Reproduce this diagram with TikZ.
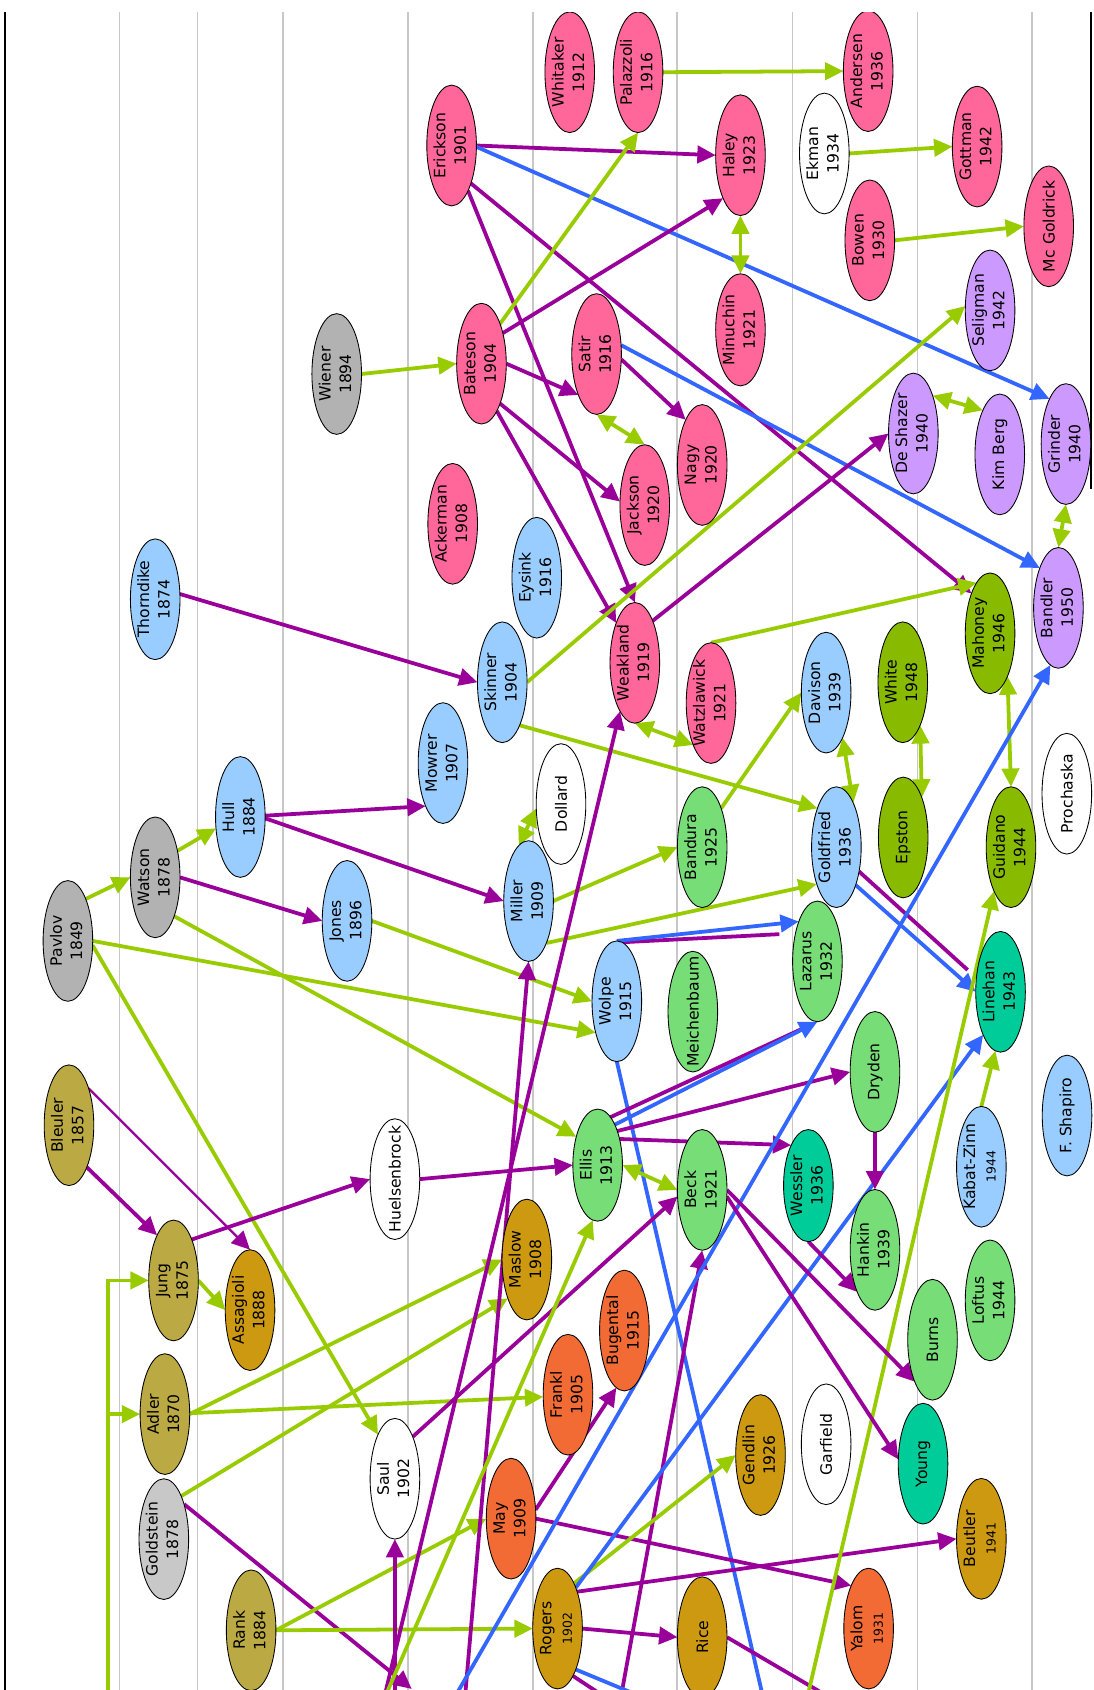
\documentclass[tikz,border=0pt]{standalone}
\usepackage{fontspec}
\usepackage{graphicx}
\usetikzlibrary{shapes.geometric,arrows.meta}
\newfontfamily\dejavu{DejaVu Sans}
\newcommand{\nfont}{\dejavu\fontsize{14.5}{19}\selectfont}
\newcommand{\twol}[2]{\makebox[0pt]{\raisebox{-.5\height}[0pt][0pt]{\rotatebox{90}{\begin{tabular}{@{}c@{}}#1\\#2\end{tabular}}}}}
\newcommand{\onel}[1]{\makebox[0pt]{\raisebox{-.5\height}[0pt][0pt]{\rotatebox{90}{#1}}}}
\newcommand{\smy}[1]{{\fontsize{11.5}{13}\selectfont #1}}
\pgfdeclarelayer{background}
\pgfsetlayers{background,main}
\definecolor{cpink}{HTML}{FF6699}
\definecolor{cgray}{HTML}{B2B2B2}
\definecolor{cgrayl}{HTML}{C8C8C8}
\definecolor{colive}{HTML}{BBAA44}
\definecolor{cgold}{HTML}{CC9911}
\definecolor{corange}{HTML}{F26B35}
\definecolor{cblue}{HTML}{99CCFF}
\definecolor{cgreen}{HTML}{77DD77}
\definecolor{cteal}{HTML}{00CC99}
\definecolor{colgreen}{HTML}{88BB00}
\definecolor{clav}{HTML}{CC99FF}
\definecolor{egreen}{HTML}{99CC00}
\definecolor{epurple}{HTML}{990099}
\definecolor{eblue}{HTML}{3366FF}
\definecolor{gridc}{HTML}{C8C8C8}
\begin{document}
\begin{tikzpicture}[x=1pt,y=-1pt,
  >={Triangle[length=17pt,width=16pt]},
  pn/.style={ellipse, draw=black, line width=0.8pt, minimum width=46pt, minimum height=112pt, inner sep=0pt, outer sep=0pt, font=\nfont},
  ge/.style={draw=egreen, line width=3.5pt, ->},
  ge2/.style={draw=egreen, line width=3.5pt, <->},
  pe/.style={draw=epurple, line width=3.5pt, ->},
  pe0/.style={draw=epurple, line width=3.5pt},
  be/.style={draw=eblue, line width=3.5pt, ->},
  be0/.style={draw=eblue, line width=3.5pt},
  gridline/.style={draw=gridc, line width=1.2pt}]
\useasboundingbox (0,0) rectangle (1015,1568);
\begin{scope}
\clip (0,11.7) rectangle (1015,1568);
\node[pn,fill=colive] (Bleuler) at (64,1044) {\twol{Bleuler}{1857}};
\node[pn,fill=cgray] (Pavlov) at (63,873) {\twol{Pavlov}{1849}};
\node[pn,fill=colive] (Jung) at (161,1188) {\twol{Jung}{1875}};
\node[pn,fill=cgold] (Assagioli) at (232,1215.5) {\twol{Assagioli}{1888}};
\node[pn,fill=colive] (Adler) at (153,1312) {\twol{Adler}{1870}};
\node[pn,fill=cgrayl] (Goldstein) at (152,1428) {\twol{Goldstein}{1878}};
\node[pn,fill=colive] (Rank) at (233,1512.6) {\twol{Rank}{1884}};
\node[pn,fill=cgray] (Watson) at (144,814) {\twol{Watson}{1878}};
\node[pn,fill=cblue] (Hull) at (223,758) {\twol{Hull}{1884}};
\node[pn,fill=cblue] (Thorndike) at (144,556) {\twol{Thorndike}{1874}};
\node[pn,fill=cblue] (Jones) at (322,854.4) {\twol{Jones}{1896}};
\node[pn,fill=cblue] (Mowrer) at (411,708) {\twol{Mowrer}{1907}};
\node[pn,fill=cgray] (Wiener) at (312.4,347) {\twol{Wiener}{1894}};
\node[pn,fill=white] (Huelsenbrock) at (366.4,1094) {\onel{Huelsenbrock}};
\node[pn,fill=white] (Saul) at (366.4,1372) {\twol{Saul}{1902}};
\node[pn,fill=cpink] (Erickson) at (419,135) {\twol{Erickson}{1901}};
\node[pn,fill=cpink] (Bateson) at (446.7,337.4) {\twol{Bateson}{1904}};
\node[pn,fill=cpink] (Ackerman) at (420,486) {\twol{Ackerman}{1908}};
\node[pn,fill=cblue] (Skinner) at (466,633) {\twol{Skinner}{1904}};
\node[pn,fill=cblue] (Eysink) at (498,536) {\twol{Eysink}{1916}};
\node[pn,fill=white] (Dollard) at (520.5,746) {\onel{Dollard}};
\node[pn,fill=cblue] (Miller) at (490.4,836) {\twol{Miller}{1909}};
\node[pn,fill=cblue] (Wolpe) at (572.3,929) {\twol{Wolpe}{1915}};
\node[pn,fill=cgold] (Maslow) at (488.8,1168.6) {\twol{Maslow}{1908}};
\node[pn,fill=corange] (Frankl) at (527,1294) {\twol{Frankl}{1905}};
\node[pn,fill=corange] (Bugental) at (579.3,1234.5) {\twol{Bugental}{1915}};
\node[pn,fill=corange] (May) at (474.2,1409) {\twol{May}{1909}};
\node[pn,fill=cgold] (Rogers) at (517.3,1511) {\twol{Rogers}{\smy{1902}}};
\node[pn,fill=cgreen,minimum height=104pt] (Ellis) at (554.5,1081) {\twol{Ellis}{1913}};
\node[pn,fill=cgreen] (Beck) at (651.5,1104) {\twol{Beck}{1921}};
\node[pn,fill=cgreen] (Meichenbaum) at (642.8,938.6) {\onel{Meichenbaum}};
\node[pn,fill=cpink] (Whitaker) at (528.6,67) {\twol{Whitaker}{1912}};
\node[pn,fill=cpink] (Palazzoli) at (592,67) {\twol{Palazzoli}{1916}};
\node[pn,fill=cpink] (Haley) at (687,144) {\twol{Haley}{1923}};
\node[pn,fill=cpink] (Satir) at (553.5,328.5) {\twol{Satir}{1916}};
\node[pn,fill=cpink] (Jackson) at (598.2,468.6) {\twol{Jackson}{1920}};
\node[pn,fill=cpink] (Nagy) at (651.5,431.4) {\twol{Nagy}{1920}};
\node[pn,fill=cpink,minimum height=104pt] (Minuchin) at (687,306) {\twol{Minuchin}{1921}};
\node[pn,fill=cpink] (Weakland) at (589,615) {\twol{Weakland}{1919}};
\node[pn,fill=cpink] (Watzlawick) at (659.7,652.3) {\twol{Watzlawick}{1921}};
\node[pn,fill=cgreen] (Bandura) at (651.5,786) {\twol{Bandura}{1925}};
\node[pn,fill=cgreen] (Lazarus) at (758.4,892) {\twol{Lazarus}{1932}};
\node[pn,fill=cblue] (Davison) at (766.5,642.6) {\twol{Davison}{1939}};
\node[pn,fill=cblue] (Goldfried) at (776,786) {\twol{Goldfried}{1936}};
\node[pn,fill=cgold] (Gendlin) at (705.6,1350) {\twol{Gendlin}{1926}};
\node[pn,fill=cgold] (Rice) at (651.5,1519) {\onel{Rice}};
\node[pn,fill=white] (Garfield) at (766.5,1340) {\onel{Garfield}};
\node[pn,fill=cteal,minimum height=104pt] (Wessler) at (750,1100) {\twol{Wessler}{1936}};
\node[pn,fill=cgreen] (Dryden) at (811.8,994.5) {\onel{Dryden}};
\node[pn,fill=cgreen] (Hankin) at (811.8,1159.6) {\twol{Hankin}{1939}};
\node[pn,fill=corange] (Yalom) at (805.9,1511) {\twol{Yalom}{\smy{1931}}};
\node[pn,fill=cpink] (Andersen) at (805.5,66) {\twol{Andersen}{1936}};
\node[pn,fill=white] (Ekman) at (764.8,142.4) {\twol{Ekman}{1934}};
\node[pn,fill=cpink] (Bowen) at (807,223) {\twol{Bowen}{1930}};
\node[pn,fill=cpink] (Gottman) at (906.6,136) {\twol{Gottman}{1942}};
\node[pn,fill=cpink] (McGoldrick) at (973,210) {\onel{Mc Goldrick}};
\node[pn,fill=clav] (Seligman) at (918.6,288) {\twol{Seligman}{1942}};
\node[pn,fill=clav] (DeShazer) at (847.4,402.2) {\twol{De Shazer}{1940}};
\node[pn,fill=clav] (KimBerg) at (927.6,421.6) {\onel{Kim Berg}};
\node[pn,fill=clav] (Grinder) at (989,412) {\twol{Grinder}{1940}};
\node[pn,fill=clav] (Bandler) at (982,564) {\twol{Bandler}{1950}};
\node[pn,fill=colgreen] (Mahoney) at (918.6,587.6) {\twol{Mahoney}{1946}};
\node[pn,fill=colgreen] (White) at (837.6,633) {\twol{White}{1948}};
\node[pn,fill=colgreen] (Epston) at (838,777) {\onel{Epston}};
\node[pn,fill=colgreen] (Guidano) at (938,786) {\twol{Guidano}{1944}};
\node[pn,fill=white] (Prochaska) at (989.8,736.4) {\onel{Prochaska}};
\node[pn,fill=cteal] (Linehan) at (928.3,920.2) {\twol{Linehan}{1943}};
\node[pn,fill=cblue] (Shapiro) at (990,1035) {\onel{F. Shapiro}};
\node[pn,fill=cblue] (KabatZinn) at (910.5,1082.5) {\twol{Kabat-Zinn}{\smy{1944}}};
\node[pn,fill=cgreen] (Loftus) at (918.6,1206.5) {\twol{Loftus}{1944}};
\node[pn,fill=cgreen] (Burns) at (865.2,1243) {\onel{Burns}};
\node[pn,fill=cteal] (Young) at (856.4,1358) {\onel{Young}};
\node[pn,fill=cgold] (Beutler) at (910.5,1427.7) {\twol{Beutler}{\smy{1941}}};
\end{scope}
\coordinate (bus) at (100.3,1575);
\coordinate (bSaul) at (366.4,1575);
\coordinate (bWeak) at (356.5,1575);
\coordinate (bMiller) at (431.4,1575);
\coordinate (bEllis) at (357,1575);
\coordinate (bBeck) at (576,1575);
\coordinate (bBandler) at (421.7,1575);
\coordinate (bWolpe) at (708,1575);
\coordinate (bRogersB) at (597,1575);
\coordinate (bRogersP) at (562,1575);
\coordinate (bRice) at (770,1575);
\coordinate (bGuidano) at (749,1575);
\coordinate (bGold) at (382,1567);
\begin{pgfonlayer}{background}
\fill[white] (0,0) rectangle (1015,1568);
\begin{scope}
\clip (0,11.7) rectangle (1015,1568);
\foreach \gx in {111,183,262.6,378.5,494.5,628,735,851,957.5}
  \draw[gridline] (\gx,0) -- (\gx,1568);
\draw[black, line width=2pt] (4.5,0) -- (4.5,1568);
\draw[black, line width=2pt] (1012.3,0) -- (1012.3,454);
\draw[pe] (Erickson.east) -- (Haley.west);
\draw[be] (Erickson.-3) -- (Grinder.110);
\draw[pe] (Erickson.-63) -- (Mahoney.115);
\draw[pe] (Erickson.-70) -- (Weakland.north);
\draw[ge] (Bateson.65) -- (Palazzoli.south);
\draw[pe] (Bateson.55) -- (Haley.248);
\draw[pe] (Bateson.east) -- (Satir.246);
\draw[pe] (Bateson.-65) -- (Jackson.172);
\draw[pe] (Bateson.-72) -- (Weakland.115);
\draw[ge] (Wiener.east) -- (Bateson.west);
\draw[ge] (Palazzoli.east) -- (Andersen.west);
\draw[ge2] (Haley.south) -- (Minuchin.north);
\draw[ge] (Ekman.east) -- (Gottman.west);
\draw[ge] (Bowen.east) -- (McGoldrick.west);
\draw[pe] (Satir.-12) -- (Nagy.110);
\draw[ge2] (Satir.south) -- (Jackson.north);
\draw[be] (Satir.20) -- (Bandler.115);
\draw[ge] (Skinner.east) -- (Seligman.170);
\draw[pe] (Weakland.67) -- (DeShazer.west);
\draw[ge2] (Weakland.south) -- (Watzlawick.247);
\draw[ge] (Watzlawick.north) -- (Mahoney.105);
\draw[ge2] (DeShazer.63) -- (KimBerg.111);
\draw[ge2] (Grinder.south) -- (Bandler.north);
\draw[pe] (Thorndike.12) -- (Skinner.west);
\draw[pe] (Hull.3) -- (Mowrer.248);
\draw[pe] (Hull.-3) -- (Miller.west);
\draw[ge] (Watson.50) -- (Hull.205);
\draw[pe] (Watson.east) -- (Jones.west);
\draw[ge] (Watson.-64) -- (Ellis.127);
\draw[ge] (Pavlov.67) -- (Watson.west);
\draw[ge] (Pavlov.east) -- (Wolpe.236);
\draw[ge] (Pavlov.-10) -- (Saul.111);
\draw[ge] (Jones.east) -- (Wolpe.west);
\draw[ge2] (Miller.100) -- (Dollard.190);
\draw[ge] (Miller.east) -- (Bandura.west);
\draw[ge] (Miller.-67) -- (Goldfried.242);
\draw[ge] (Skinner.-68) -- (Goldfried.116);
\draw[ge] (Bandura.64) -- (Davison.west);
\draw[ge2] (Davison.-70) -- (Goldfried.69);
\draw[ge2] (White.-68) -- (Epston.65);
\draw[ge2] (Mahoney.-68) -- (Guidano.north);
\draw[pe0, shorten >=11pt] (Goldfried.-47) -- (Linehan.150);
\draw[be] (Goldfried.-63) -- (Linehan.west);
\draw[pe0, shorten >=15pt] (Wolpe.85) -- (Lazarus.128);
\draw[be] (Wolpe.north) -- (Lazarus.115);
\draw[be0] (Wolpe.south) -- (bWolpe);
\draw[pe0, shorten >=15pt] (Ellis.75) -- (Lazarus.south);
\draw[be] (Ellis.67) -- (Lazarus.south);
\draw[pe] (Ellis.60) -- (Dryden.west);
\draw[pe] (Ellis.50) -- (Wessler.113);
\draw[ge2] (Ellis.east) -- (Beck.west);
\draw[pe] (Huelsenbrock.east) -- (Ellis.west);
\draw[pe] (Jung.66) -- (Huelsenbrock.west);
\draw[pe] (Bleuler.-67) -- (Jung.110);
\draw[pe, line width=2.2pt] (Bleuler.62) -- (Assagioli.north);
\draw[ge] (Jung.east) -- (Assagioli.west);
\draw[ge] (bus) |- (Jung.west);
\draw[ge] (bus) |- (Adler.west);
\draw[ge] (Adler.east) -- (Maslow.west);
\draw[ge] (Adler.2) -- (Frankl.185);
\draw[ge] (Goldstein.68) -- (Maslow.244);
\draw[pe] (Goldstein.60) -- (bGold);
\draw[ge] (Rank.east) -- (May.west);
\draw[ge] (Rank.east) -- (Rogers.west);
\draw[pe] (Saul.67) -- (Beck.195);
\draw[pe] (bSaul) -- (Saul.south);
\draw[pe] (bMiller) -- (Miller.south);
\draw[pe] (bWeak) -- (Weakland.253);
\draw[ge] (bEllis) -- (Ellis.265);
\draw[pe] (bBeck) -- (Beck.south);
\draw[pe] (May.20) -- (Bugental.262);
\draw[pe] (May.east) -- (Yalom.112);
\draw[pe] (Rogers.62) -- (Beutler.west);
\draw[ge] (Rogers.70) -- (Gendlin.west);
\draw[pe] (Rogers.east) -- (Rice.west);
\draw[be] (Rogers.66) -- (Linehan.248);
\draw[be] (bBandler) -- (Bandler.262);
\draw[be0] (Rogers.-66) -- (bRogersB);
\draw[pe0] (Rogers.-72) -- (bRogersP);
\draw[pe0] (Rice.east) -- (bRice);
\draw[ge] (bGuidano) -- (Guidano.249);
\draw[ge] (KabatZinn.north) -- (Linehan.265);
\draw[pe] (Dryden.south) -- (Hankin.north);
\draw[pe] (Wessler.south) -- (Hankin.247);
\draw[pe] (Beck.east) -- (Burns.247);
\draw[pe] (Beck.-15) -- (Young.170);
\end{scope}
\end{pgfonlayer}
\end{tikzpicture}
\end{document}
